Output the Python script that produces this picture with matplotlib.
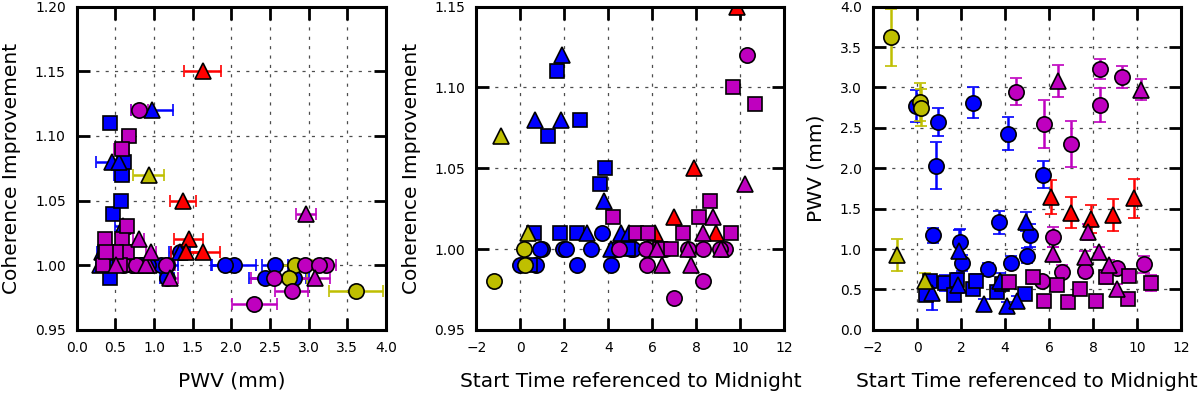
import numpy as np
import matplotlib.pyplot as plt

# start time (h from midnight), PWV (mm), PWV error (mm), coherence improvement
blue_circ_t = [-0.03, 0.96, 0.88, 2.55, 4.14, 5.73, 0.73, 1.94, 2.05, 3.23, 3.72, 4.29, 5.02, 5.13]
blue_circ_pwv = [2.77, 2.57, 2.03, 2.81, 2.43, 1.92, 1.17, 1.09, 0.83, 0.75, 1.33, 0.83, 0.92, 1.17]
blue_circ_err = [0.20, 0.17, 0.29, 0.19, 0.20, 0.17, 0.09, 0.16, 0.10, 0.08, 0.14, 0.08, 0.09, 0.14]
blue_circ_coh = [0.99, 1.00, 1.00, 0.99, 0.99, 1.00, 0.99, 1.00, 1.00, 1.00, 1.01, 1.00, 1.00, 1.00]

blue_sq_t = [0.42, 0.60, 1.26, 1.67, 1.82, 2.55, 2.70, 3.63, 3.85, 4.90]
blue_sq_pwv = [0.43, 0.60, 0.58, 0.43, 0.62, 0.51, 0.61, 0.47, 0.57, 0.44]
blue_sq_err = [0.06, 0.08, 0.10, 0.06, 0.08, 0.07, 0.08, 0.06, 0.07, 0.06]
blue_sq_coh = [0.99, 1.01, 1.07, 1.11, 1.01, 1.01, 1.08, 1.04, 1.05, 1.00]

blue_tri_t = [0.68, 1.86, 1.89, 3.03, 3.78, 4.10, 4.55, 4.95]
blue_tri_pwv = [0.45, 0.55, 0.97, 0.32, 0.60, 0.30, 0.36, 1.34]
blue_tri_err = [0.20, 0.10, 0.27, 0.06, 0.10, 0.05, 0.06, 0.12]
blue_tri_coh = [1.08, 1.08, 1.12, 1.01, 1.03, 1.00, 1.01, 1.01]

yel_circ_t = [-1.20, 0.15, 0.20]
yel_circ_pwv = [3.62, 2.82, 2.75]
yel_circ_err = [0.35, 0.23, 0.23]
yel_circ_coh = [0.98, 1.00, 0.99]

yel_tri_t = [-0.90, 0.35]
yel_tri_pwv = [0.93, 0.60]
yel_tri_err = [0.20, 0.10]
yel_tri_coh = [1.07, 1.01]

red_tri_t = [6.10, 7.00, 7.90, 8.90, 9.85]
red_tri_pwv = [1.64, 1.45, 1.37, 1.42, 1.63]
red_tri_err = [0.21, 0.19, 0.17, 0.20, 0.24]
red_tri_coh = [1.01, 1.02, 1.05, 1.01, 1.15]

mag_circ_t = [4.49, 5.76, 6.98, 8.31, 8.31, 9.30, 10.31, 6.19, 6.57, 7.63, 5.70, 9.07]
mag_circ_pwv = [2.95, 2.55, 2.30, 3.23, 2.78, 3.13, 0.81, 1.15, 0.72, 0.73, 0.61, 0.76]
mag_circ_err = [0.17, 0.30, 0.29, 0.12, 0.21, 0.14, 0.11, 0.12, 0.08, 0.08, 0.06, 0.07]
mag_circ_coh = [1.00, 0.99, 0.97, 1.00, 0.98, 1.00, 1.12, 1.00, 1.00, 1.00, 1.00, 1.00]

mag_sq_t = [4.20, 5.25, 5.78, 6.35, 6.85, 7.40, 8.13, 8.60, 9.58, 9.65, 10.65]
mag_sq_pwv = [0.59, 0.65, 0.36, 0.56, 0.34, 0.51, 0.36, 0.65, 0.38, 0.67, 0.58]
mag_sq_err = [0.07, 0.08, 0.06, 0.07, 0.06, 0.07, 0.06, 0.08, 0.06, 0.08, 0.10]
mag_sq_coh = [1.02, 1.01, 1.01, 1.00, 1.00, 1.01, 1.02, 1.03, 1.01, 1.10, 1.09]

mag_tri_t = [6.42, 10.20, 7.75, 6.20, 7.63, 8.28, 8.74, 9.10]
mag_tri_pwv = [3.08, 2.97, 1.21, 0.94, 0.90, 0.96, 0.80, 0.51]
mag_tri_err = [0.20, 0.13, 0.10, 0.08, 0.08, 0.07, 0.07, 0.06]
mag_tri_coh = [0.99, 1.04, 0.99, 1.00, 1.00, 1.01, 1.02, 1.00]

groups = [
    (blue_circ_t, blue_circ_pwv, blue_circ_err, blue_circ_coh, 'b', 'o'),
    (blue_sq_t, blue_sq_pwv, blue_sq_err, blue_sq_coh, 'b', 's'),
    (blue_tri_t, blue_tri_pwv, blue_tri_err, blue_tri_coh, 'b', '^'),
    (yel_circ_t, yel_circ_pwv, yel_circ_err, yel_circ_coh, 'y', 'o'),
    (yel_tri_t, yel_tri_pwv, yel_tri_err, yel_tri_coh, 'y', '^'),
    (red_tri_t, red_tri_pwv, red_tri_err, red_tri_coh, 'r', '^'),
    (mag_circ_t, mag_circ_pwv, mag_circ_err, mag_circ_coh, 'm', 'o'),
    (mag_sq_t, mag_sq_pwv, mag_sq_err, mag_sq_coh, 'm', 's'),
    (mag_tri_t, mag_tri_pwv, mag_tri_err, mag_tri_coh, 'm', '^'),
]

colors = {'b': '#0000ff', 'y': '#bfbf00', 'r': '#ff0000', 'm': '#bf00bf'}
sizes = {'o': 11, 's': 10.5, '^': 11}

fig = plt.figure(figsize=(12, 3.95), dpi=100)
ax1 = fig.add_axes([0.064, 0.165, 0.2575, 0.818])
ax2 = fig.add_axes([0.397, 0.165, 0.2567, 0.818])
ax3 = fig.add_axes([0.7275, 0.165, 0.2567, 0.818])

for t, pwv, err, coh, c, m in groups:
    col = colors[c]
    ms = sizes[m]
    ax1.errorbar(pwv, coh, xerr=err, fmt=m, color=col, mfc=col, mec='k', mew=1.2,
                 ms=ms, elinewidth=1.8, capsize=4.5, capthick=1.8)
    ax2.plot(t, coh, m, mfc=col, mec='k', mew=1.2, ms=ms)
    ax3.errorbar(t, pwv, yerr=err, fmt=m, color=col, mfc=col, mec='k', mew=1.2,
                 ms=ms, elinewidth=1.8, capsize=4.5, capthick=1.8)

ax1.set_xlim(0, 4)
ax1.set_ylim(0.95, 1.20)
ax1.set_xticks(np.arange(0, 4.01, 0.5))
ax1.set_yticks(np.arange(0.95, 1.201, 0.05))
ax1.set_xlabel('PWV (mm)')
ax1.set_ylabel('Coherence Improvement')

ax2.set_xlim(-2, 12)
ax2.set_ylim(0.95, 1.15)
ax2.set_xticks(np.arange(-2, 12.1, 2))
ax2.set_yticks(np.arange(0.95, 1.151, 0.05))
ax2.set_xlabel('Start Time referenced to Midnight')
ax2.set_ylabel('Coherence Improvement')

ax3.set_xlim(-2, 12)
ax3.set_ylim(0, 4)
ax3.set_xticks(np.arange(-2, 12.1, 2))
ax3.set_yticks(np.arange(0, 4.01, 0.5))
ax3.set_xlabel('Start Time referenced to Midnight')
ax3.set_ylabel('PWV (mm)')

for ax in (ax1, ax2, ax3):
    ax.grid(True, color='0.3', linestyle=(0, (2.5, 5)), linewidth=0.9)
    ax.set_axisbelow(True)
    for sp in ax.spines.values():
        sp.set_linewidth(2.2)
    ax.tick_params(direction='in', length=9, width=2, top=True, right=True,
                   labelsize=10, pad=8, colors='k')
    ax.xaxis.label.set_size(14.5)
    ax.yaxis.label.set_size(14.5)
    ax.xaxis.labelpad = 12
    ax.yaxis.labelpad = 10

ax1.xaxis.set_major_formatter(plt.FormatStrFormatter('%.1f'))
ax1.yaxis.set_major_formatter(plt.FormatStrFormatter('%.2f'))
ax2.yaxis.set_major_formatter(plt.FormatStrFormatter('%.2f'))
ax3.yaxis.set_major_formatter(plt.FormatStrFormatter('%.1f'))
ax2.xaxis.set_major_formatter(plt.FuncFormatter(lambda v, p: ('\u2212%d' % -v) if v < 0 else '%d' % v))
ax3.xaxis.set_major_formatter(plt.FuncFormatter(lambda v, p: ('\u2212%d' % -v) if v < 0 else '%d' % v))

fig.savefig('out.png', dpi=100)
